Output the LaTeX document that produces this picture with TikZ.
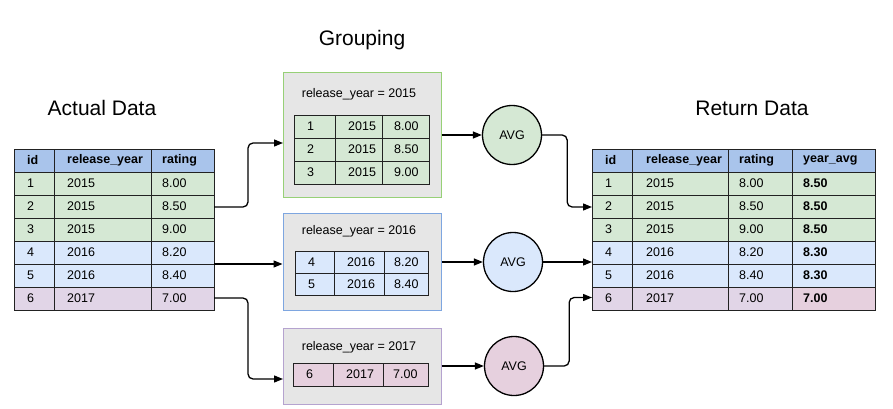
\documentclass[tikz,border=0pt]{standalone}
\usepackage{fontspec}
\setmainfont{Liberation Sans}
\usetikzlibrary{arrows.meta}
\definecolor{hdr}{HTML}{A9C4EB}
\definecolor{grn}{HTML}{D5E8D4}
\definecolor{blu}{HTML}{DAE8FC}
\definecolor{pur}{HTML}{E1D5E7}
\definecolor{pnk}{HTML}{E6D0DE}
\definecolor{boxgray}{HTML}{E6E6E6}
\definecolor{grnline}{HTML}{97D077}
\definecolor{bluline}{HTML}{7EA6E0}
\definecolor{purline}{HTML}{B5A3CF}
\definecolor{lines}{HTML}{222222}
\begin{document}
\begin{tikzpicture}[x=1pt,y=-1pt,
  cell/.style={draw=lines, line width=0.9pt},
  txt/.style={anchor=west, inner sep=0pt, font=\fontsize{12.5}{15}\selectfont},
  title/.style={inner sep=0pt, font=\fontsize{21}{25}\selectfont},
  gtitle/.style={inner sep=0pt, font=\fontsize{12.5}{15}\selectfont},
  gbox/.style={fill=boxgray, line width=1pt, minimum width=158pt, inner sep=0pt},
  avg/.style={circle, draw=black, line width=1.3pt, minimum size=59pt, inner sep=0pt, font=\fontsize{12.5}{15}\selectfont},
  arr/.style={draw=black, line width=1.3pt, -{Triangle[length=9pt,width=7pt]}, rounded corners=5pt}]
\useasboundingbox (0,0) rectangle (893,409);

% titles
\node[title] (tact) at (102,108) {Actual Data};
\node[title] (tgrp) at (362,40) {Grouping};
\node[title] (tret) at (752,108) {Return Data};

% ---------- left table ----------
\foreach [count=\r] \fc/\a/\b/\c in {
  hdr/\textbf{id}/\textbf{release\_year}/\textbf{rating},
  grn/1/2015/8.00, grn/2/2015/8.50, grn/3/2015/9.00,
  blu/4/2016/8.20, blu/5/2016/8.40, pur/6/2017/7.00}{
  \pgfmathsetmacro\ya{149+(\r-1)*23}
  \draw[cell, fill=\fc] (14,\ya) rectangle (214,\ya+23);
  \node[txt] at (27,\ya+11.5) {\a};
  \node[txt] at (67,\ya+11.5) {\b};
  \node[txt] at (162,\ya+11.5) {\c};
}
\draw[cell] (54,149) -- (54,310) (151,149) -- (151,310);
\coordinate (lt2) at (214,207);
\coordinate (lt45) at (214,264);
\coordinate (lt6) at (214,298);

% ---------- right table ----------
\foreach [count=\r] \fc/\a/\b/\c/\d/\ec in {
  hdr/\textbf{id}/\textbf{release\_year}/\textbf{rating}/\textbf{year\_avg}/hdr,
  grn/1/2015/8.00/\textbf{8.50}/grn, grn/2/2015/8.50/\textbf{8.50}/grn, grn/3/2015/9.00/\textbf{8.50}/grn,
  blu/4/2016/8.20/\textbf{8.30}/blu, blu/5/2016/8.40/\textbf{8.30}/blu, pur/6/2017/7.00/\textbf{7.00}/pnk}{
  \pgfmathsetmacro\ya{149+(\r-1)*23}
  \draw[cell, fill=\fc] (592,\ya) rectangle (875,\ya+23);
  \draw[cell, fill=\ec] (792,\ya) rectangle (875,\ya+23);
  \node[txt] at (605,\ya+11.5) {\a};
  \node[txt] at (646,\ya+11.5) {\b};
  \node[txt] at (739,\ya+11.5) {\c};
  \node[txt] at (803,\ya+11.5) {\d};
}
\draw[cell] (632,149) -- (632,310) (728,149) -- (728,310);
\coordinate (rt2) at (592,207);
\coordinate (rt45) at (592,262);
\coordinate (rt6) at (592,297.5);

% ---------- group boxes ----------
\node[gbox, draw=grnline, minimum height=124pt] (g1) at (362,135) {};
\node[gbox, draw=bluline, minimum height=97pt] (g2) at (362,262) {};
\node[gbox, draw=purline, minimum height=76pt] (g3) at (362,366) {};
\node[gtitle] (gt1) at (359,94) {release\_year = 2015};
\node[gtitle] (gt2) at (359,231) {release\_year = 2016};
\node[gtitle] (gt3) at (359,347) {release\_year = 2017};

\foreach [count=\r] \a/\b/\c in {1/2015/8.00, 2/2015/8.50, 3/2015/9.00}{
  \pgfmathsetmacro\ya{115+(\r-1)*23}
  \draw[cell, fill=grn] (294,\ya) rectangle (429,\ya+23);
  \node[txt] at (307,\ya+11.5) {\a};
  \node[txt] at (348,\ya+11.5) {\b};
  \node[txt] at (394,\ya+11.5) {\c};
}
\draw[cell] (335,115) -- (335,184) (382,115) -- (382,184);

\foreach [count=\r] \a/\b/\c in {4/2016/8.20, 5/2016/8.40}{
  \pgfmathsetmacro\ya{251+(\r-1)*22}
  \draw[cell, fill=blu] (295,\ya) rectangle (428,\ya+22);
  \node[txt] at (308,\ya+11) {\a};
  \node[txt] at (347,\ya+11) {\b};
  \node[txt] at (394,\ya+11) {\c};
}
\draw[cell] (334,251) -- (334,295) (384,251) -- (384,295);

\draw[cell, fill=pnk] (293,363) rectangle (428,386);
\draw[cell] (333,363) -- (333,386) (383,363) -- (383,386);
\node[txt] (t6a) at (306,374.5) {6};
\node[txt] (t6b) at (346,374.5) {2017};
\node[txt] (t6c) at (393,374.5) {7.00};

% ---------- AVG circles ----------
\node[avg, fill=grn] (c1) at (512,135) {AVG};
\node[avg, fill=blu] (c2) at (513,262) {AVG};
\node[avg, fill=pnk] (c3) at (514,366) {AVG};

% ---------- connectors ----------
\coordinate (g1in) at (283,143);
\coordinate (g3in) at (283,379);
\draw[arr] (lt2) -- ++(34,0) |- (g1in);
\draw[arr] (lt45) -- (lt45 -| g2.west);
\draw[arr] (lt6) -- ++(34,0) |- (g3in);

\draw[arr] (g1.east) -- (c1.west);
\draw[arr] (g2.east) -- (c2.west);
\draw[arr] (g3.east) -- (c3.west);

\draw[arr] (c1.east) -- ++(25,0) |- (rt2);
\draw[arr] (c2.east) -- (rt45);
\draw[arr] (c3.east) -- ++(25,0) |- (rt6);
\end{tikzpicture}
\end{document}
